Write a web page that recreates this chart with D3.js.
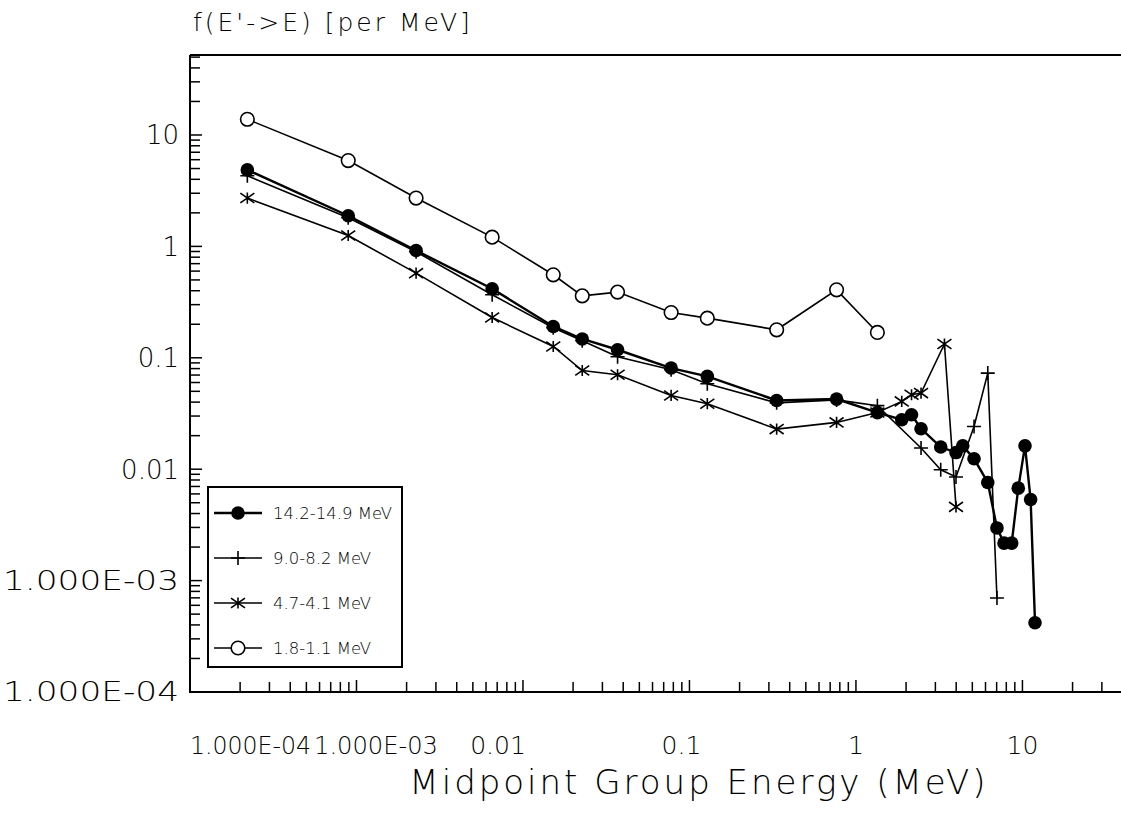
<!DOCTYPE html>
<html><head><meta charset="utf-8">
<script src="https://cdn.jsdelivr.net/npm/d3@7"></script>
<style>
body{margin:0;background:#fff}
text{font-family:"DejaVu Sans",sans-serif;font-weight:200;fill:#000}
</style>
</head><body>
<svg id="c" width="1121" height="816"></svg>
<script>
// ---- data (energies in MeV, f in per MeV) ----
const groupE = [2.21e-4, 8.92e-4, 2.28e-3, 6.53e-3, 0.0152, 0.0227, 0.037, 0.0776, 0.128, 0.334, 0.765, 1.345,
                1.884, 2.157, 2.46, 3.23, 3.99, 4.38, 5.12, 6.19, 7.03, 7.75, 8.62, 9.44, 10.36, 11.2, 11.9];

const s1Label = "14.2-14.9 MeV";
const s1X = groupE;
const s1Y = [4.86, 1.883, 0.918, 0.4164, 0.1912, 0.1475, 0.1181, 0.0809, 0.0681, 0.0414, 0.0426, 0.0322,
             0.0278, 0.0308, 0.0231, 0.0158, 0.0141, 0.0162, 0.0124, 0.0076, 0.00297, 0.00217, 0.00217, 0.00676, 0.0162, 0.00534, 0.000419];

const s2Label = "9.0-8.2 MeV";
const s2X = [2.21e-4, 8.92e-4, 2.28e-3, 6.53e-3, 0.0152, 0.0227, 0.037, 0.0776, 0.128, 0.334, 0.765, 1.345,
             2.46, 3.23, 3.99, 5.12, 6.19, 7.03];
const s2Y = [4.30, 1.807, 0.894, 0.368, 0.186, 0.1425, 0.1021, 0.0781, 0.0585, 0.0394, 0.0419, 0.0372,
             0.0155, 0.00988, 0.00852, 0.0242, 0.0729, 0.000698];

const s3Label = "4.7-4.1 MeV";
const s3X = [2.21e-4, 8.92e-4, 2.28e-3, 6.53e-3, 0.0152, 0.0227, 0.037, 0.0776, 0.128, 0.334, 0.765, 1.345,
             1.884, 2.157, 2.46, 3.4, 3.99];
const s3Y = [2.716, 1.252, 0.575, 0.230, 0.1263, 0.0769, 0.0704, 0.0459, 0.0387, 0.0229, 0.0263, 0.0323,
             0.0406, 0.0466, 0.0482, 0.1330, 0.00459];

const s4Label = "1.8-1.1 MeV";
const s4X = [2.21e-4, 8.92e-4, 2.28e-3, 6.53e-3, 0.0152, 0.0227, 0.037, 0.0776, 0.128, 0.334, 0.765, 1.345];
const s4Y = [13.84, 5.89, 2.716, 1.211, 0.556, 0.3596, 0.3886, 0.255, 0.227, 0.1784, 0.4073, 0.1688];

const xTickVals = [1e-4, 1e-3, 0.01, 0.1, 1, 10];
const xTickLabels = ["1.000E-04", "1.000E-03", "0.01", "0.1", "1", "10"];
const yTickVals = [1e-4, 1e-3, 0.01, 0.1, 1, 10];
const yTickLabels = ["1.000E-04", "1.000E-03", "0.01", "0.1", "1", "10"];

const yTitle = "f(E'->E) [per MeV]";
const xTitle = "Midpoint Group Energy (MeV)";

// ---- layout ----
const svg = d3.select("#c");
const L = 190, R = 1121, T = 55, B = 692;
const x = d3.scaleLog().domain([1e-4, Math.pow(10, 1.592)]).range([L, R]);
const y = d3.scaleLog().domain([1e-4, Math.pow(10, 1.718)]).range([B, T]);

function logTicks(lo, hi) {
  const out = [];
  for (let e = -4; e <= 1; e++) for (let m = 1; m <= 9; m++) {
    const v = m * Math.pow(10, e);
    if (v >= lo * 0.999 && v <= hi) out.push({v, major: m === 1});
  }
  return out;
}

const ax = svg.append("g").attr("stroke", "#000").attr("fill", "none");
ax.append("path").attr("d", `M${L},${T}H${R}`).attr("stroke-width", 2);
ax.append("path").attr("d", `M${L},${T}V${B}H${R}`).attr("stroke-width", 2);

logTicks(1e-4, x.domain()[1]).forEach(t => {
  const px = x(t.v);
  if (px < L + 2) return;
  ax.append("line").attr("x1", px).attr("x2", px).attr("y1", B).attr("y2", B - (t.major ? 12 : 10)).attr("stroke-width", 1.5);
});
logTicks(1e-4, y.domain()[1]).forEach(t => {
  const py = y(t.v);
  if (py > B - 2) return;
  ax.append("line").attr("y1", py).attr("y2", py).attr("x1", L).attr("x2", L + (t.major ? 12 : 10)).attr("stroke-width", 1.5);
});

// y tick labels
svg.append("g").selectAll("text").data(yTickVals).join("text")
  .attr("x", 179).attr("y", d => y(d)).attr("dy", "0.36em")
  .attr("text-anchor", "end").attr("font-size", 26)
  .each(function(d, i) {
    const t = d3.select(this).text(yTickLabels[i]);
    if (yTickLabels[i].includes("E")) t.attr("textLength", 176).attr("lengthAdjust", "spacingAndGlyphs");
  });

// x tick labels: exponent labels are wide, the first is pushed right so it starts at the axis
const xg = svg.append("g");
const eW = 124;
xTickVals.forEach((d, i) => {
  const t = xg.append("text").attr("y", 745).attr("dy", "0.36em").attr("font-size", 25).text(xTickLabels[i]);
  if (i === 0) t.attr("x", L).attr("textLength", eW - 3).attr("lengthAdjust", "spacingAndGlyphs");
  else if (i === 1) t.attr("x", L + eW).attr("textLength", eW).attr("lengthAdjust", "spacingAndGlyphs");
  else if (i === 2) t.attr("x", x(d) - 25).attr("text-anchor", "middle");
  else if (i === 3) t.attr("x", x(d) - 8).attr("text-anchor", "middle");
  else t.attr("x", x(d)).attr("text-anchor", "middle");
});

svg.append("text").attr("x", 193).attr("y", 31).attr("font-size", 25).attr("letter-spacing", 3).text(yTitle);
svg.append("text").attr("x", 699).attr("y", 794).attr("text-anchor", "middle").attr("font-size", 34).attr("letter-spacing", 3).text(xTitle);

// ---- series ----
const line = d3.line().x(d => x(d[0])).y(d => y(d[1]));
const zip = (a, b) => a.map((v, i) => [v, b[i]]);
const d1 = zip(s1X, s1Y), d2 = zip(s2X, s2Y), d3s = zip(s3X, s3Y), d4 = zip(s4X, s4Y);

const g = svg.append("g");
g.append("path").datum(d4).attr("d", line).attr("fill", "none").attr("stroke", "#000").attr("stroke-width", 1.6);
g.append("path").datum(d3s).attr("d", line).attr("fill", "none").attr("stroke", "#000").attr("stroke-width", 1.6);
g.append("path").datum(d2).attr("d", line).attr("fill", "none").attr("stroke", "#000").attr("stroke-width", 1.6);
g.append("path").datum(d1).attr("d", line).attr("fill", "none").attr("stroke", "#000").attr("stroke-width", 2.4);

function plus(sel, cx, cy, s) {
  sel.append("path").attr("d", `M${cx - s},${cy}H${cx + s}M${cx},${cy - s}V${cy + s}`).attr("stroke", "#000").attr("stroke-width", 1.6).attr("fill", "none");
}
function star(sel, cx, cy, s) {
  sel.append("path").attr("d", `M${cx - s},${cy - s * 0.7}L${cx + s},${cy + s * 0.7}M${cx - s},${cy + s * 0.7}L${cx + s},${cy - s * 0.7}M${cx},${cy - s * 0.8}V${cy + s * 0.8}`)
    .attr("stroke", "#000").attr("stroke-width", 1.6).attr("fill", "none");
}
function dot(sel, cx, cy) { sel.append("circle").attr("cx", cx).attr("cy", cy).attr("r", 6.8).attr("fill", "#000"); }
function ring(sel, cx, cy) { sel.append("circle").attr("cx", cx).attr("cy", cy).attr("r", 6.8).attr("fill", "#fff").attr("stroke", "#000").attr("stroke-width", 1.6); }

d4.forEach(d => ring(g, x(d[0]), y(d[1])));
d3s.forEach(d => star(g, x(d[0]), y(d[1]), 7));
d2.forEach(d => plus(g, x(d[0]), y(d[1]), 7));
d1.forEach(d => dot(g, x(d[0]), y(d[1])));

// ---- legend ----
const lg = svg.append("g");
lg.append("rect").attr("x", 208).attr("y", 487).attr("width", 194).attr("height", 180)
  .attr("fill", "#fff").attr("stroke", "#000").attr("stroke-width", 2);
const legendItems = [[s1Label, dot], [s2Label, (s, cx, cy) => plus(s, cx, cy, 7)], [s3Label, (s, cx, cy) => star(s, cx, cy, 7)], [s4Label, ring]];
legendItems.forEach((it, i) => {
  const cy = 513 + i * 45;
  lg.append("line").attr("x1", 214).attr("x2", 262).attr("y1", cy).attr("y2", cy).attr("stroke", "#000").attr("stroke-width", i === 0 ? 2.4 : 1.6);
  it[1](lg, 238, cy);
  lg.append("text").attr("x", 273).attr("y", cy).attr("dy", "0.36em").attr("font-size", 16.5).text(it[0]);
});
</script>
</body></html>
